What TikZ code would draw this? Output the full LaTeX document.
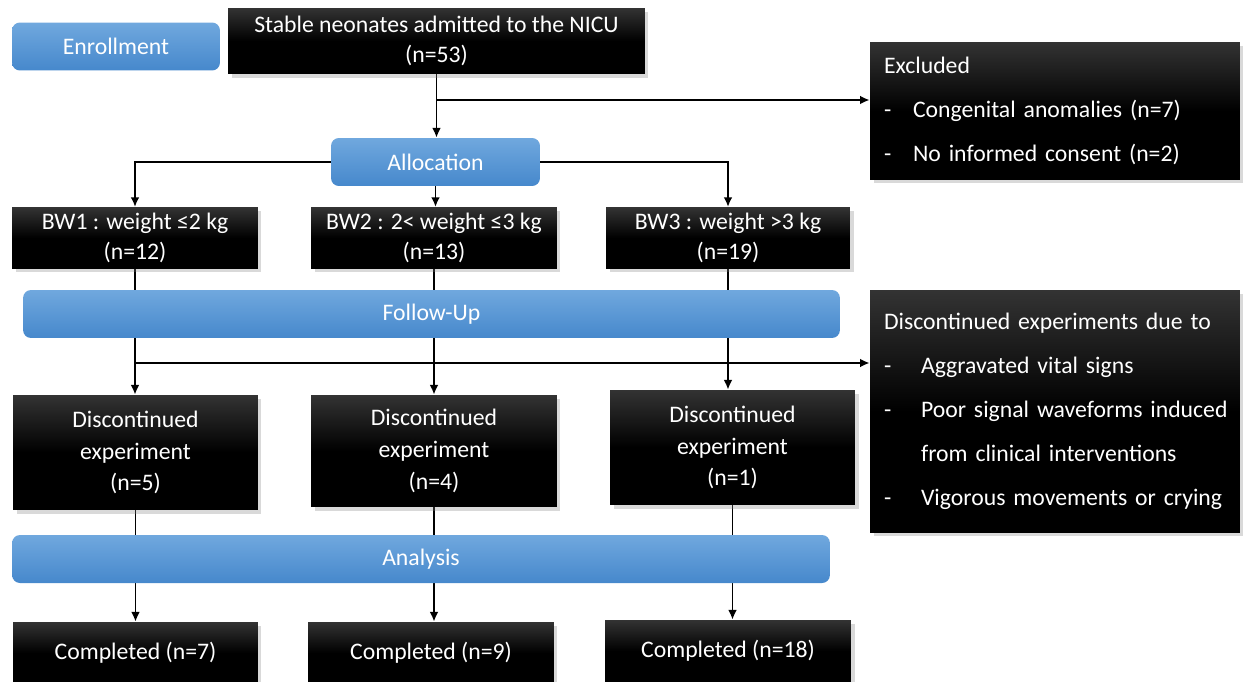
\documentclass[tikz,border=0pt]{standalone}
\usepackage{fontspec}
\setmainfont{Carlito}
\usetikzlibrary{arrows.meta,shadows,backgrounds}
\definecolor{phasetop}{RGB}{112,168,222}
\definecolor{phasebot}{RGB}{70,136,204}

\begin{document}
\begin{tikzpicture}[x=0.02cm,y=-0.02cm,
  txt/.style={font=\fontsize{13.5}{17}\selectfont, text=white},
  phase/.style={txt, rounded corners=4.5pt, top color=phasetop, bottom color=phasebot, minimum height=0.96cm},
  blackbox/.style={txt, align=center, top color=black!80, bottom color=black, middle color=black,
    drop shadow={shadow xshift=2pt, shadow yshift=-2pt, opacity=0.3}},
  listbox/.style={blackbox, align=left, inner xsep=0.28cm, text width=6.84cm, minimum width=7.4cm},
  conn/.style={line width=1.1pt, -{Latex[length=5.5pt,width=5pt]}}]
\useasboundingbox (0,0) rectangle (1247,682);

% phases
\node[phase, minimum width=4.16cm] (enroll) at (116,46.5) {Enrollment};
\node[phase, minimum width=4.18cm] (alloc) at (435.5,162) {Allocation};
\node[phase, minimum width=16.34cm] (follow) at (431.5,314) {Follow-Up};
\node[phase, minimum width=16.36cm] (analysis) at (421,559) {Analysis};

% boxes
\node[blackbox, minimum width=8.34cm, minimum height=1.32cm] (stable) at (436.5,41) {Stable neonates admitted to the NICU\\(n=53)};
\node[listbox, minimum height=2.76cm] (excl) at (1055,111) {Excluded\\[8pt]
  \mbox{\makebox[0.58cm][l]{-}Congenital anomalies (n=7)}\\[8pt]
  \mbox{\makebox[0.58cm][l]{-}No informed consent (n=2)}};

\node[blackbox, minimum width=4.92cm, minimum height=1.2cm] (bw1) at (135,238) {BW1 : weight ≤2 kg\\(n=12)};
\node[blackbox, minimum width=4.92cm, minimum height=1.2cm] (bw2) at (434,238) {BW2 : 2< weight ≤3 kg\\(n=13)};
\node[blackbox, minimum width=4.88cm, minimum height=1.2cm] (bw3) at (728,238) {BW3 : weight >3 kg\\(n=19)};

\node[listbox, minimum height=4.86cm] (dbox) at (1055,411.5) {\mbox{Discontinued experiments due to}\\[8pt]
  \mbox{\makebox[0.74cm][l]{-}Aggravated vital signs}\\[8pt]
  \mbox{\makebox[0.74cm][l]{-}Poor signal waveforms induced}\\[8pt]
  \mbox{\hspace*{0.74cm}from clinical interventions}\\[8pt]
  \mbox{\makebox[0.74cm][l]{-}Vigorous movements or crying}};

\node[blackbox, minimum width=4.9cm, minimum height=2.3cm, font=\fontsize{13.5}{18}\selectfont] (disc1) at (135.5,452.5) {Discontinued\\experiment\\(n=5)};
\node[blackbox, minimum width=4.92cm, minimum height=2.24cm, font=\fontsize{13.5}{18}\selectfont] (disc2) at (434,451) {Discontinued\\experiment\\(n=4)};
\node[blackbox, minimum width=4.9cm, minimum height=2.3cm, font=\fontsize{13.5}{18}\selectfont] (disc3) at (732.5,447.5) {Discontinued\\experiment\\(n=1)};

\node[blackbox, minimum width=4.9cm, minimum height=1.24cm] (comp1) at (135.5,653) {Completed (n=7)};
\node[blackbox, minimum width=4.92cm, minimum height=1.24cm] (comp2) at (431,653) {Completed (n=9)};
\node[blackbox, minimum width=4.92cm, minimum height=1.24cm] (comp3) at (728,651) {Completed (n=18)};

% connectors
\begin{scope}[on background layer]
\draw[conn] (stable.south) -- (stable.south |- alloc.north);
\coordinate (exclsplit) at (436,100);
\draw[conn] (exclsplit) -- (exclsplit -| excl.west);
\draw[conn] (alloc.west) -| (bw1.north);
\draw[conn] (alloc.east) -| (bw3.north);
\draw[conn] (alloc.south) -- (alloc.south |- bw2.north);
\foreach \i in {1,2,3} {
  \draw[conn] (bw\i.south) -- (bw\i.south |- disc\i.north);
  \draw[conn] (disc\i.south) -- (disc\i.south |- comp\i.north);
}
\coordinate (fusplit) at (135,363);
\draw[conn] (fusplit) -- (fusplit -| dbox.west);
\end{scope}
\end{tikzpicture}
\end{document}
